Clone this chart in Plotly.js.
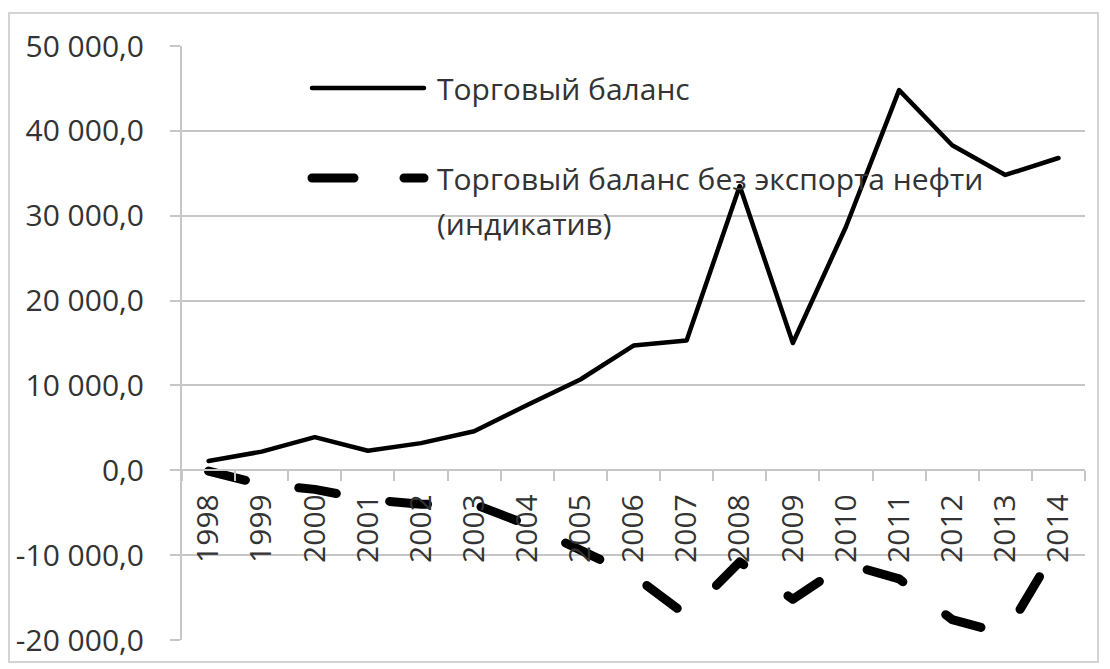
<!DOCTYPE html>
<html>
<head>
<meta charset="utf-8">
<script src="https://cdn.plot.ly/plotly-3.0.1.min.js"></script>
<style>
  html, body { margin: 0; padding: 0; background: #fff; }
  #wrap { position: relative; width: 1110px; height: 669px; }
  #frame { position: absolute; left: 8px; top: 12px; width: 1091px; height: 651px; border: 2px solid #d4d4d4; box-sizing: border-box; pointer-events: none; z-index: 2; }
  #chart { position: absolute; left: 0; top: 0; width: 1110px; height: 669px; }
  .js-line, .shapelayer path { stroke-linecap: round; stroke-linejoin: round; }
</style>
</head>
<body>
<div id="wrap">
  <div id="chart"></div>
  <div id="frame"></div>
</div>
<script>
const years = ['1998','1999','2000','2001','2002','2003','2004','2005','2006','2007','2008','2009','2010','2011','2012','2013','2014'];
const tradeBalance = [1100, 2200, 3900, 2300, 3200, 4600, 7700, 10700, 14700, 15300, 33500, 15000, 28700, 44800, 38300, 34800, 36800];
const tradeBalanceNoOil = [-100, -1650, -2250, -3450, -4000, -4000, -6400, -9300, -12400, -17100, -10800, -15200, -11000, -12800, -17600, -19300, -8800];
const yTickVals = [-20000, -10000, 0, 10000, 20000, 30000, 40000, 50000];
const yTickText = ['-20 000,0', '-10 000,0', '0,0', '10 000,0', '20 000,0', '30 000,0', '40 000,0', '50 000,0'];
const seriesNames = ['Торговый баланс', 'Торговый баланс без экспорта нефти', '(индикатив)'];

const FONT = '"Open Sans", "Noto Sans", sans-serif';
const TXT = '#333333';
const FS = 30;
const GRID = '#c6c6c6';
const yMin = -20000, yMax = 50000;

// layout helpers (pixel -> paper)
const L = 182, R = 1085, T = 46, B = 640;
const px = x => (x - L) / (R - L);
const py = y => (B - y) / (B - T);

const traces = [
  { x: years, y: tradeBalance, type: 'scatter', mode: 'lines', name: seriesNames[0],
    line: { color: '#000', width: 4.5 } },
  { x: years, y: tradeBalanceNoOil, type: 'scatter', mode: 'lines', name: seriesNames[1] + ' ' + seriesNames[2],
    line: { color: '#000', width: 9, dash: '38px,54px' } }
];

const layout = {
  width: 1110, height: 669,
  margin: { l: L, r: 1110 - R, t: T, b: 669 - B },
  paper_bgcolor: '#fff', plot_bgcolor: '#fff',
  showlegend: false,
  font: { family: FONT, size: FS, color: TXT },
  xaxis: {
    type: 'category', range: [-0.5, years.length - 0.5],
    anchor: 'free', position: (0 - yMin) / (yMax - yMin),
    showgrid: false, zeroline: false,
    showline: true, linecolor: GRID, linewidth: 2,
    ticks: 'outside', tickson: 'boundaries', ticklen: 10, tickcolor: GRID, tickwidth: 2,
    tickangle: -90, ticklabelstandoff: 11,
    tickfont: { family: FONT, size: FS, color: TXT }
  },
  yaxis: {
    range: [yMin, yMax], tickvals: yTickVals, ticktext: yTickText,
    showgrid: true, gridcolor: GRID, gridwidth: 2,
    zeroline: false,
    showline: true, linecolor: GRID, linewidth: 2,
    ticks: 'outside', ticklen: 10, tickcolor: GRID, tickwidth: 2,
    ticklabelstandoff: 20,
    tickfont: { family: FONT, size: FS, color: TXT }
  },
  shapes: [
    { type: 'line', xref: 'paper', yref: 'paper', x0: px(312), x1: px(424), y0: py(88), y1: py(88),
      line: { color: '#000', width: 4.5 } },
    { type: 'line', xref: 'paper', yref: 'paper', x0: px(312), x1: px(424), y0: py(178), y1: py(178),
      line: { color: '#000', width: 9, dash: '42px,50px' } }
  ],
  annotations: [
    { xref: 'paper', yref: 'paper', x: px(435), y: py(88), xanchor: 'left', yanchor: 'middle',
      text: seriesNames[0], showarrow: false, font: { family: FONT, size: FS, color: TXT } },
    { xref: 'paper', yref: 'paper', x: px(435), y: py(178), xanchor: 'left', yanchor: 'middle',
      text: seriesNames[1], showarrow: false, font: { family: FONT, size: FS, color: TXT } },
    { xref: 'paper', yref: 'paper', x: px(435), y: py(223), xanchor: 'left', yanchor: 'middle',
      text: seriesNames[2], showarrow: false, font: { family: FONT, size: FS, color: TXT } }
  ]
};

Plotly.newPlot('chart', traces, layout, { staticPlot: true, displayModeBar: false });
</script>
</body>
</html>
